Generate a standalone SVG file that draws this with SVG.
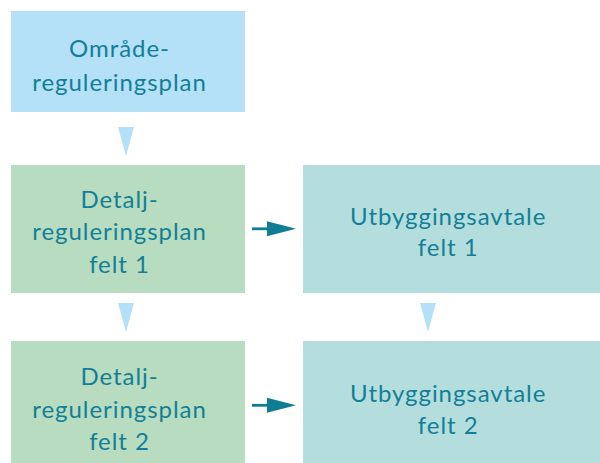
<svg xmlns="http://www.w3.org/2000/svg" width="600" height="463" viewBox="0 0 600 463">
  <style>
    .plan-a { fill: #b4e0f8; }
    .plan-d { fill: #b8dcc0; }
    .avtale { fill: #b4dedd; }
    .lbl { font-family: Lato, "Liberation Sans", sans-serif; font-size: 24px; letter-spacing: 0.95px; fill: #137f96; text-anchor: middle; }
    .tri { fill: #b4e0f8; }
    .arr { fill: #0f7d92; }
  </style>
  <rect width="600" height="463" fill="#ffffff"/>

  <g id="omradeplan">
    <rect class="plan-a" x="11" y="11" width="234" height="101"/>
    <text class="lbl" x="119.5" y="57">Område-</text>
    <text class="lbl" x="119.5" y="90.5">reguleringsplan</text>
  </g>

  <g id="detaljplan1">
    <rect class="plan-d" x="11" y="165" width="234" height="128"/>
    <text class="lbl" x="119.5" y="207.5">Detalj-</text>
    <text class="lbl" x="119.5" y="240">reguleringsplan</text>
    <text class="lbl" x="119.5" y="272.5">felt 1</text>
  </g>

  <g id="avtale1">
    <rect class="avtale" x="303" y="165" width="297" height="128"/>
    <text class="lbl" x="448.2" y="225">Utbyggingsavtale</text>
    <text class="lbl" x="448.2" y="256">felt 1</text>
  </g>

  <g id="detaljplan2">
    <rect class="plan-d" x="11" y="341" width="234" height="122"/>
    <text class="lbl" x="119.5" y="385">Detalj-</text>
    <text class="lbl" x="119.5" y="417.5">reguleringsplan</text>
    <text class="lbl" x="119.5" y="450">felt 2</text>
  </g>

  <g id="avtale2">
    <rect class="avtale" x="303" y="341" width="297" height="122"/>
    <text class="lbl" x="448.2" y="401.5">Utbyggingsavtale</text>
    <text class="lbl" x="448.2" y="433.5">felt 2</text>
  </g>

  <g id="connectors">
    <polygon class="tri" points="118,127 134,127 126,156"/>
    <polygon class="tri" points="118,303 134,303 126,332"/>
    <polygon class="tri" points="420,303 436,303 428,332"/>
    <rect class="arr" x="252" y="227.4" width="16" height="2.8"/>
    <polygon class="arr" points="267,221.3 296,228.8 267,236.3"/>
    <rect class="arr" x="252" y="403.9" width="16" height="2.8"/>
    <polygon class="arr" points="267,397.8 296,405.3 267,412.8"/>
  </g>
</svg>
